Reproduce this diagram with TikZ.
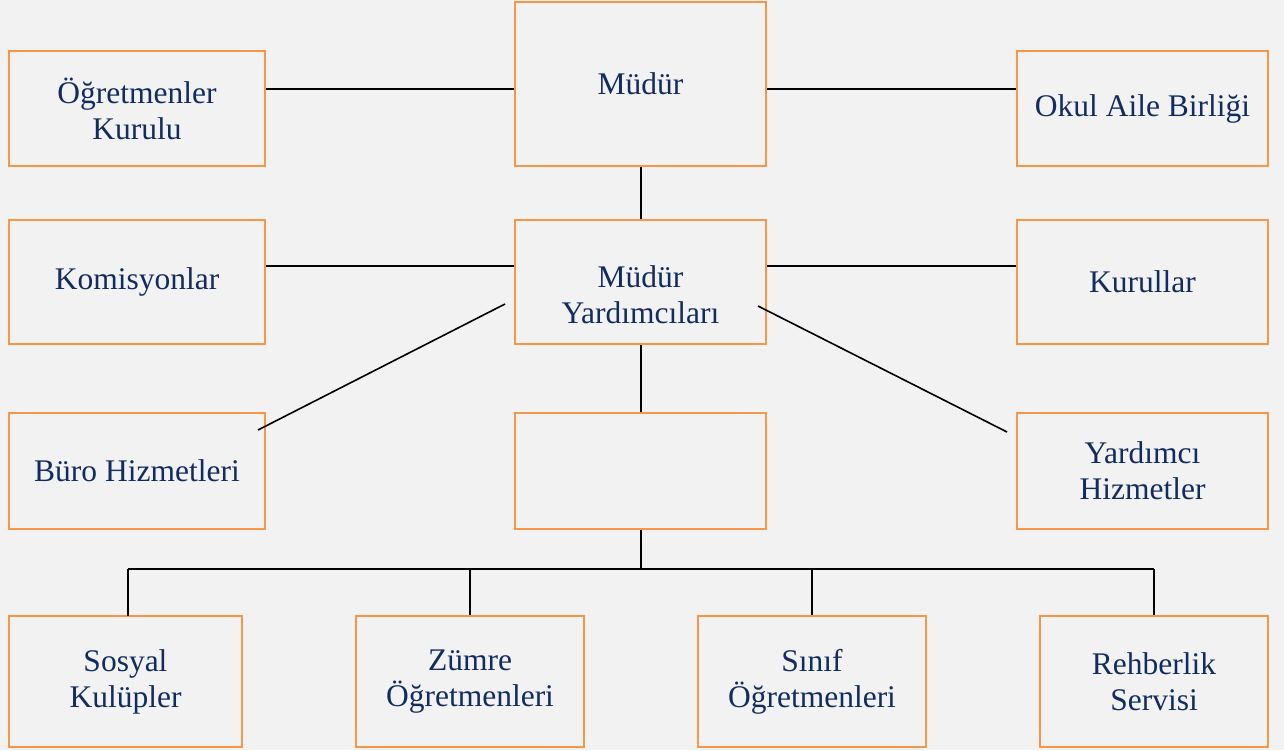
\documentclass[tikz,border=0pt]{standalone}
\usepackage{fontspec}
\setmainfont{Liberation Serif}
\usetikzlibrary{calc}

\definecolor{zemin}{RGB}{242,242,242}
\definecolor{turuncu}{RGB}{247,150,70}
\definecolor{lacivert}{RGB}{18,44,96}

\begin{document}
\begin{tikzpicture}[x=1pt, y=-1pt,
    kutu/.style={draw=turuncu, line width=2.5pt, fill=zemin, text=lacivert,
        align=center, font=\fontsize{31.5}{36}\selectfont, inner sep=0pt},
    genis/.style={kutu, minimum width=256pt},
    orta/.style={kutu, minimum width=251pt},
    alt/.style={kutu, minimum width=228pt, minimum height=131pt},
    baglanti/.style={draw=black, line width=2pt}]
    % Background
    \fill[zemin] (0,0) rectangle (1284,750);
    \useasboundingbox (0,0) rectangle (1284,750);

    % Top row
    \node[genis, minimum height=115pt] (ogk) at (137,108.5) {Öğretmenler\\Kurulu};
    \node[orta, minimum height=164pt] (mudur) at (640.5,84) {Müdür};
    \node[orta, minimum height=115pt] (okul) at (1142.5,108.5) {Okul Aile Birliği};

    % Second row
    \node[genis, minimum height=124pt] (kom) at (137,282) {Komisyonlar};
    \node[orta, minimum height=124pt,
        label={[text=lacivert, align=center, font=\fontsize{31.5}{36}\selectfont,
        yshift=-13pt]center:Müdür\\Yardımcıları}] (my) at (640.5,282) {};
    \node[orta, minimum height=124pt] (kurul) at (1142.5,282) {Kurullar};

    % Third row
    \node[genis, minimum height=116pt] (buro) at (137,471) {Büro Hizmetleri};
    \node[orta, minimum height=116pt] (bos) at (640.5,471) {};
    \node[orta, minimum height=116pt] (yh) at (1142.5,471) {Yardımcı\\Hizmetler};

    % Bottom row
    \node[alt, minimum width=233pt] (sk) at (125.5,681.5) {Sosyal\\Kulüpler};
    \node[alt] (zo) at (470,681.5) {Zümre\\Öğretmenleri};
    \node[alt] (so) at (812,681.5) {Sınıf\\Öğretmenleri};
    \node[alt] (rs) at (1154,681.5) {Rehberlik\\Servisi};

    % Horizontal connections
    \draw[baglanti] ([yshift=19.5pt]ogk.east) -- ([yshift=19.5pt]ogk.east -| mudur.west);
    \draw[baglanti] ([yshift=19.5pt]okul.west) -- ([yshift=19.5pt]okul.west -| mudur.east);
    \draw[baglanti] ([yshift=16pt]kom.east) -- ([yshift=16pt]kom.east -| my.west);
    \draw[baglanti] ([yshift=16pt]kurul.west) -- ([yshift=16pt]kurul.west -| my.east);

    % Vertical connections
    \draw[baglanti] (mudur.south) -- (my.north);
    \draw[baglanti] (my.south) -- (bos.north);

    % Diagonal lines
    \coordinate (sol1) at (505,304);
    \coordinate (sol2) at (258,430);
    \coordinate (sag1) at (758,306);
    \coordinate (sag2) at (1007,432);
    \draw[baglanti, line width=1.6pt] (sol1) -- (sol2);
    \draw[baglanti, line width=1.6pt] (sag1) -- (sag2);

    % Bottom tree
    \draw[baglanti] (bos.south) -- ++(0,39) coordinate (kol);
    \draw[baglanti] (kol -| 128,0) -- (kol -| rs.north);
    \draw[baglanti] (kol -| 128,0) -- (128,616);
    \foreach \b in {zo,so,rs}
    {
        \draw[baglanti] (kol -| \b.north) -- (\b.north);
    }
\end{tikzpicture}
\end{document}
